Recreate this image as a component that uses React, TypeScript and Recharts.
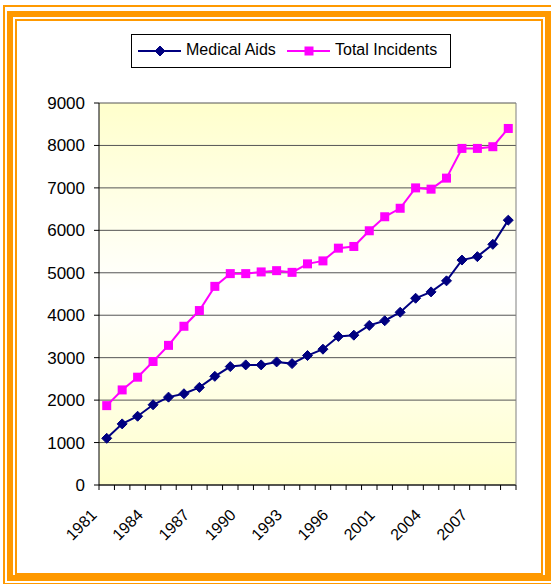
import React from "react";
import {
  LineChart,
  Line,
  XAxis,
  YAxis,
  CartesianGrid,
  Legend,
} from "recharts";

const years = [
  "1981", "1982", "1983", "1984", "1985", "1986", "1987", "1988", "1989",
  "1990", "1991", "1992", "1993", "1994", "1995", "1996", "1997", "1999",
  "2001", "2002", "2003", "2004", "2005", "2006", "2007", "2008", "2009",
];
const medicalAids = [
  1100, 1440, 1620, 1890, 2070, 2150, 2300, 2560, 2790, 2830, 2830, 2900,
  2860, 3050, 3200, 3500, 3530, 3760, 3870, 4070, 4400, 4550, 4810, 5300,
  5380, 5670, 6240,
];
const totalIncidents = [
  1870, 2240, 2540, 2910, 3290, 3740, 4110, 4680, 4980, 4980, 5020, 5050,
  5010, 5210, 5280, 5580, 5620, 5990, 6320, 6520, 7000, 6970, 7230, 7930,
  7930, 7970, 8400,
];
const yTicks = [0, 1000, 2000, 3000, 4000, 5000, 6000, 7000, 8000, 9000];

const data = years.map((year, i) => ({
  year,
  medical: medicalAids[i],
  total: totalIncidents[i],
}));

const FONT = '"Liberation Sans", Arial, sans-serif';
const NAVY = "#000080";
const PINK = "#FF00FF";
const ORANGE = "#FF9900";
const PLOT_LEFT = 99;
const PLOT_RIGHT = 516;
const BAND = (PLOT_RIGHT - PLOT_LEFT) / years.length;

const Diamond = (props: any) => {
  const { cx, cy } = props;
  if (cx == null || cy == null) return null;
  const r = 5;
  return (
    <path
      d={`M${cx},${cy - r}L${cx + r},${cy}L${cx},${cy + r}L${cx - r},${cy}Z`}
      fill={NAVY}
      stroke={NAVY}
    />
  );
};

const Square = (props: any) => {
  const { cx, cy } = props;
  if (cx == null || cy == null) return null;
  const s = 4.5;
  return <rect x={cx - s} y={cy - s} width={s * 2} height={s * 2} fill={PINK} />;
};

const XTick = (props: any) => {
  const { x, y, payload, index } = props;
  const last = index === years.length - 1;
  return (
    <g>
      <line x1={x - BAND / 2} y1={y} x2={x - BAND / 2} y2={y + 5} stroke="#000" />
      {last && <line x1={x + BAND / 2} y1={y} x2={x + BAND / 2} y2={y + 5} stroke="#000" />}
      {index % 3 === 0 && (
        <text
          x={x - 9}
          y={y + 31}
          transform={`rotate(-45, ${x - 9}, ${y + 31})`}
          textAnchor="end"
          fontSize={16}
          fontFamily={FONT}
          fill="#000"
        >
          {payload.value}
        </text>
      )}
    </g>
  );
};

const LegendBox = () => (
  <div
    style={{
      width: 318,
      height: 32,
      border: "1px solid #000",
      background: "#fff",
      position: "relative",
      fontFamily: FONT,
      fontSize: 16,
      color: "#000",
    }}
  >
    <svg width={318} height={32} style={{ position: "absolute", left: 0, top: 0 }}>
      <line x1={6} y1={16} x2={49} y2={16} stroke={NAVY} strokeWidth={2} />
      <Diamond cx={28} cy={16} />
      <line x1={155} y1={16} x2={198} y2={16} stroke={PINK} strokeWidth={2} />
      <Square cx={177} cy={16} />
    </svg>
    <span style={{ position: "absolute", left: 54, top: 6 }}>Medical Aids</span>
    <span style={{ position: "absolute", left: 203, top: 6 }}>Total Incidents</span>
  </div>
);

export default function App() {
  return (
    <div
      style={{
        position: "absolute",
        left: 0,
        top: 0,
        width: 551,
        height: 584,
        overflow: "hidden",
        background: "#fff",
      }}
    >
      <style>{"body{margin:0}"}</style>
      <div style={{ position: "absolute", left: 3, top: 5, width: 552, height: 576, border: `2px solid ${ORANGE}` }} />
      <div style={{ position: "absolute", left: 7, top: 11, width: 532, height: 558, border: `6px solid ${ORANGE}` }} />
      <div style={{ position: "absolute", left: 15, top: 19, width: 524, height: 552, border: `2px solid ${ORANGE}` }} />
      <div style={{ position: "absolute", left: 0, top: 0 }}>
        <LineChart
          width={551}
          height={584}
          data={data}
          margin={{ top: 69, right: 34, bottom: 39, left: 39 }}
        >
          <defs>
            <linearGradient id="plotBg" x1="0" y1="0" x2="0" y2="1">
              <stop offset="0%" stopColor="#FFFFCC" />
              <stop offset="50%" stopColor="#FFFFFF" />
              <stop offset="100%" stopColor="#FFFFCC" />
            </linearGradient>
          </defs>
          <CartesianGrid
            vertical={false}
            stroke="#555"
            fill="url(#plotBg)"
            fillOpacity={1}
          />
          <XAxis
            dataKey="year"
            scale="band"
            interval={0}
            height={60}
            tickLine={false}
            tickSize={0}
            tickMargin={0}
            axisLine={{ stroke: "#000" }}
            tick={<XTick />}
          />
          <YAxis
            domain={[0, 9000]}
            ticks={yTicks}
            width={60}
            tickSize={5}
            tickMargin={9}
            axisLine={{ stroke: "#000" }}
            tickLine={{ stroke: "#000" }}
            tick={{ fontSize: 17, fontFamily: FONT, fill: "#000" }}
          />
          <YAxis
            yAxisId="right"
            orientation="right"
            width={1}
            tick={false}
            tickLine={false}
            axisLine={{ stroke: "#808080" }}
          />
          <Legend
            verticalAlign="top"
            content={<LegendBox />}
            wrapperStyle={{ position: "absolute", top: 34, left: 131, width: 320, height: 34 }}
          />
          <Line
            dataKey="medical"
            name="Medical Aids"
            stroke={NAVY}
            strokeWidth={2}
            dot={<Diamond />}
            isAnimationActive={false}
          />
          <Line
            dataKey="total"
            name="Total Incidents"
            stroke={PINK}
            strokeWidth={2}
            dot={<Square />}
            isAnimationActive={false}
          />
        </LineChart>
      </div>
    </div>
  );
}
